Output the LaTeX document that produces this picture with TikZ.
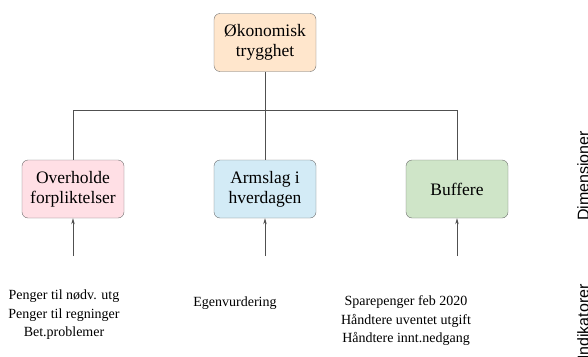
\documentclass[tikz,border=0pt]{standalone}
\usepackage{fontspec}
\setmainfont{Liberation Serif}
\setsansfont{Liberation Sans}
\usetikzlibrary{arrows.meta,positioning}
\definecolor{edge}{HTML}{6E6E6E}
\definecolor{wire}{HTML}{505050}
\definecolor{peach}{HTML}{FFE6CC}
\definecolor{rose}{HTML}{FFDFE5}
\definecolor{sky}{HTML}{D3EBF6}
\definecolor{mint}{HTML}{CFE5C8}
\tikzset{
  dimbox/.style={draw=edge, rounded corners=6pt, align=center, minimum width=102pt, minimum height=58pt, inner sep=2pt, font=\fontsize{17.5}{20}\selectfont},
  topbox/.style={dimbox, fill=peach},
  rosebox/.style={dimbox, fill=rose},
  skybox/.style={dimbox, fill=sky},
  mintbox/.style={dimbox, fill=mint},
  indtext/.style={align=center, inner sep=0pt, font=\fontsize{14}{18.5}\selectfont},
  sidelabel/.style={rotate=90, anchor=north, inner sep=0pt, font=\sffamily\fontsize{16}{16}\selectfont},
  link/.style={draw=wire, line width=0.8pt},
  arrow/.style={-{Stealth[length=6pt,width=3.5pt]}, draw=wire, line width=0.8pt}
}
\begin{document}
\begin{tikzpicture}[x=1pt, y=-1pt]
  \useasboundingbox (0,0) rectangle (588,356);
  \node[topbox] (econ) at (265,42.5) {Økonomisk\\trygghet};
  \node[rosebox] (oblig) at (73,189) {Overholde\\forpliktelser};
  \node[skybox] (room) at (265,189) {Armslag i\\hverdagen};
  \node[mintbox] (buffer) at (457,189) {Buffere};
  \coordinate (split) at (265,110);
  \draw[link] (econ) -- (split);
  \draw[link] (split) -| (oblig);
  \draw[link] (split) -- (room);
  \draw[link] (split) -| (buffer);
  \coordinate (in1) at (73,256);
  \coordinate (in2) at (265,256);
  \coordinate (in3) at (457,256);
  \draw[arrow] (in1) -- (oblig);
  \draw[arrow] (in2) -- (room);
  \draw[arrow] (in3) -- (buffer);
  \node[indtext] (ind1) at (64,315) {Penger til nødv. utg\\Penger til regninger\\Bet.problemer};
  \node[indtext] (ind2) at (235,303) {Egenvurdering};
  \node[indtext] (ind3) at (406,321) {Sparepenger feb 2020\\Håndtere uventet utgift\\Håndtere innt.nedgang};
  \node[sidelabel] (dimlab) at (577,176) {Dimensioner};
  \node[sidelabel] (indlab) at (577,322) {Indikatorer};
\end{tikzpicture}
\end{document}
